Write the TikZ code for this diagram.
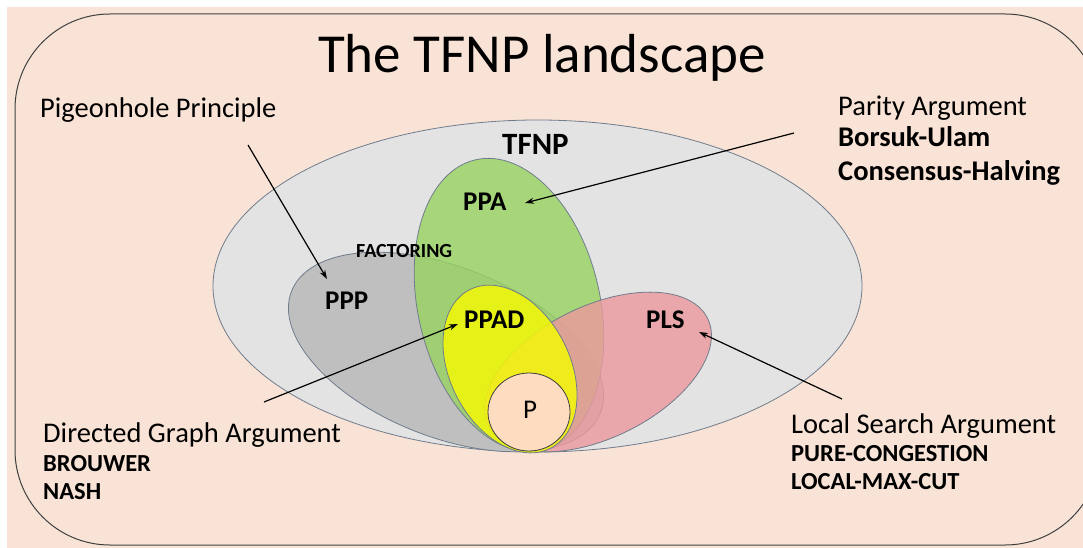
\documentclass[tikz,border=0pt]{standalone}
\usepackage{fontspec}
\setmainfont{Carlito}
\usetikzlibrary{arrows.meta}
\definecolor{SlideBg}{HTML}{F9E3D6}
\definecolor{FrameEdge}{HTML}{3F3F3F}
\definecolor{SetEdge}{HTML}{707C8C}
\definecolor{TfnpGray}{HTML}{E3E3E3}
\definecolor{PppGray}{HTML}{BFBFBF}
\definecolor{PpaGreen}{HTML}{99D360}
\definecolor{PlsPink}{HTML}{EC999E}
\definecolor{PpadYellow}{HTML}{F3F809}
\definecolor{PPeach}{HTML}{FDDCBF}
\tikzset{
    % class regions
    classset/.style={draw=SetEdge, line width=0.8pt},
    % text styles
    classname/.style={font=\fontsize{27}{32}\selectfont\bfseries, anchor=base west, inner sep=0pt},
    argtext/.style={font=\fontsize{28.5}{34}\selectfont, anchor=base west, inner sep=0pt},
    probtext/.style={font=\fontsize{24.5}{29}\selectfont\bfseries, anchor=base west, inner sep=0pt},
    % arrows
    pointer/.style={-{Stealth[length=9pt,width=6pt]}, line width=1.2pt, draw=black}
}
\begin{document}
\begin{tikzpicture}[x=1pt, y=-1pt]
    \clip (0,0) rectangle (1083,548);
    \fill[white] (0,0) rectangle (1083,548);
    \fill[SlideBg] (7,7) rectangle (1083,548);
    \draw[FrameEdge, line width=1pt, rounded corners=95pt] (15,14) rectangle (1100,545);

    % Title
    \node[font=\fontsize{55}{62}\selectfont, anchor=base west, inner sep=0pt] (title) at (318,73) {The TFNP landscape};

    % Classes
    \filldraw[classset, fill=TfnpGray] (537.5,286) ellipse [x radius=324.5, y radius=166];
    \filldraw[classset, fill=PppGray, rotate around={-21.5:(446,352)}] (446,352) ellipse [x radius=166, y radius=85];
    \filldraw[classset, fill=PpaGreen, fill opacity=0.8, rotate around={13:(509,305)}] (509,305) ellipse [x radius=91, y radius=149];
    \filldraw[classset, fill=PlsPink, fill opacity=0.8, rotate around={26:(598,372)}] (598,372) ellipse [x radius=122, y radius=66];
    \filldraw[classset, fill=PpadYellow, fill opacity=0.85, rotate around={27:(510,369)}] (510,369) ellipse [x radius=60, y radius=89];
    \filldraw[classset, draw=FrameEdge, fill=PPeach] (529,412) ellipse [x radius=41, y radius=39];

    \node[classname, font=\fontsize{31}{37}\selectfont\bfseries] (tfnp) at (502,155) {TFNP};
    \node[classname] (ppa) at (463,210) {PPA};
    \node[classname, font=\fontsize{20}{24}\selectfont\bfseries] (factoring) at (356,257) {FACTORING};
    \node[classname] (ppp) at (325,309) {PPP};
    \node[classname] (ppad) at (464,328) {PPAD};
    \node[classname] (pls) at (646,328) {PLS};
    \node[argtext, font=\fontsize{27}{32}\selectfont] (p) at (523,418) {P};

    % Arguments and problems
    \node[argtext] (pigeon) at (40,118) {Pigeonhole Principle};

    \node[argtext] (parity) at (838,116) {Parity Argument};
    \node[probtext, font=\fontsize{28.5}{34}\selectfont\bfseries] (borsuk) at (838,147) {Borsuk-Ulam};
    \node[probtext, font=\fontsize{28.5}{34}\selectfont\bfseries] (consensus) at (838,180) {Consensus-Halving};

    \node[argtext] (directed) at (43,442) {Directed Graph Argument};
    \node[probtext] (brouwer) at (43,471) {BROUWER};
    \node[probtext] (nash) at (43,499) {NASH};

    \node[argtext] (local) at (791,433) {Local Search Argument};
    \node[probtext] (pure) at (791,461) {PURE-CONGESTION};
    \node[probtext] (maxcut) at (791,489) {LOCAL-MAX-CUT};

    % Pointers
    \coordinate (pigeon tail) at (248,145);
    \coordinate (ppp tip) at (327,279);
    \coordinate (parity tail) at (794,133);
    \coordinate (ppa tip) at (525,203);
    \coordinate (directed tail) at (264,402);
    \coordinate (ppad tip) at (458,324);
    \coordinate (local tail) at (842,399);
    \coordinate (pls tip) at (699,332);

    \draw[pointer] (pigeon tail) -- (ppp tip);
    \draw[pointer] (parity tail) -- (ppa tip);
    \draw[pointer] (directed tail) -- (ppad tip);
    \draw[pointer] (local tail) -- (pls tip);
\end{tikzpicture}
\end{document}
